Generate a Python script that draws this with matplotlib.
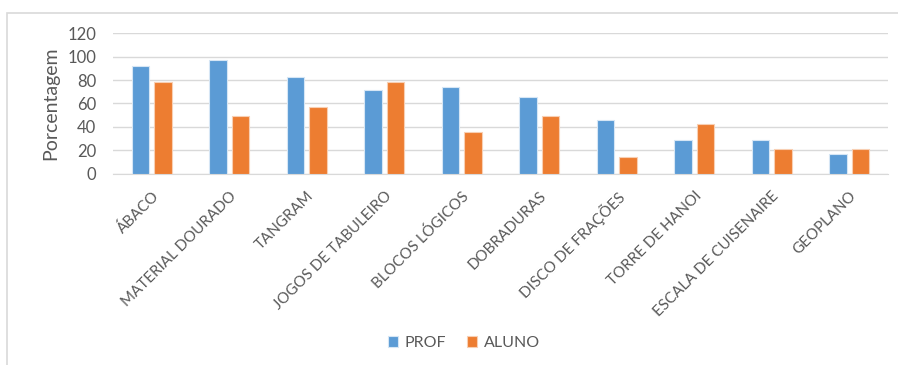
import matplotlib
matplotlib.use("Agg")
import matplotlib.pyplot as plt
import numpy as np
from matplotlib.patches import Rectangle

categories = ["ÁBACO", "MATERIAL DOURADO", "TANGRAM", "JOGOS DE TABULEIRO", "BLOCOS LÓGICOS",
              "DOBRADURAS", "DISCO DE FRAÇÕES", "TORRE DE HANOI", "ESCALA DE CUISENAIRE", "GEOPLANO"]
prof = [91.7, 96.9, 83.0, 71.4, 74.2, 65.7, 45.5, 28.5, 28.5, 16.7]
aluno = [78.6, 49.5, 57.1, 78.6, 35.5, 49.5, 14.2, 42.8, 21.4, 21.4]
yticks = [0, 20, 40, 60, 80, 100, 120]

plt.rcParams['font.family'] = ['Lato', 'DejaVu Sans']
gray = "#595959"

fig = plt.figure(figsize=(8.98, 3.65), dpi=100)
fig.patches.append(Rectangle((7/898, -0.05), 1.0, 1 - 13/365 + 0.05, transform=fig.transFigure,
                             fill=False, edgecolor="#D9D9D9", lw=1.2))
ax = fig.add_axes([113/898, 1 - 173.7/365, 775/898, (173.7 - 33.3)/365])

x = np.arange(len(categories))
w = 0.225
off = 0.145
ax.bar(x - off, prof, width=w, color="#5B9BD5", edgecolor="#D6E6F5", linewidth=0.8, label="PROF", zorder=3)
ax.bar(x + off, aluno, width=w, color="#ED7D31", edgecolor="#F8CFB3", linewidth=0.8, label="ALUNO", zorder=3)

ax.set_xlim(-0.5, len(categories) - 0.5)
ax.set_ylim(0, 120)
ax.set_yticks(yticks)
ax.set_yticklabels([str(v) for v in yticks], fontsize=12, color=gray)
ax.yaxis.grid(True, color="#D9D9D9", lw=1, zorder=0)
for s in ["top", "right", "left"]:
    ax.spines[s].set_visible(False)
ax.spines["bottom"].set_color("#D9D9D9")
ax.tick_params(axis="both", length=0)
ax.tick_params(axis="y", pad=12)
ax.set_xticks(x)
ax.set_xticklabels(categories, rotation=45, ha="right", va="top", rotation_mode="anchor",
                   fontsize=10.9, color=gray)
ax.tick_params(axis="x", pad=11)
ax.set_ylabel("Porcentagem", fontsize=14, color=gray, labelpad=6)

leg = fig.legend(loc="center", bbox_to_anchor=(464/898, 1 - 343/365), ncol=2, frameon=False,
                 fontsize=11.5, handlelength=0.65, handleheight=0.65, columnspacing=1.3, handletextpad=0.4)
for t in leg.get_texts():
    t.set_color(gray)

fig.savefig("out.png", dpi=100)
